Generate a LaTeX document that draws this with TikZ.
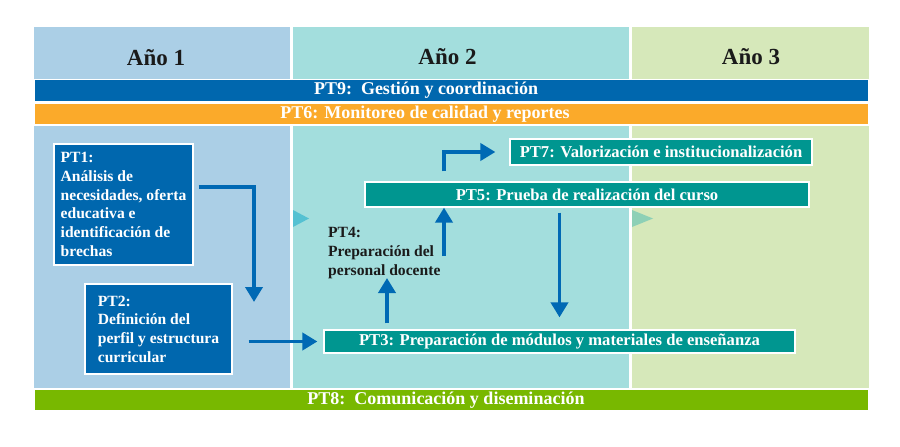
\documentclass[tikz,border=0pt]{standalone}
\usepackage{fontspec}
\setmainfont{Liberation Serif}
\usepackage{xcolor}
\definecolor{yearOne}{HTML}{ABCFE6}
\definecolor{yearTwo}{HTML}{A3DEDD}
\definecolor{yearThree}{HTML}{D6E8BA}
\definecolor{wpBlue}{HTML}{0067AE}
\definecolor{wpTeal}{HTML}{009690}
\definecolor{wpOrange}{HTML}{FBAA2A}
\definecolor{wpGreen}{HTML}{78B800}
\definecolor{arrowBlue}{HTML}{0069B4}
\definecolor{textDark}{HTML}{1A1A1A}
\definecolor{markCyan}{HTML}{55C1D2}
\definecolor{markMint}{HTML}{8DD0B6}
\usepackage{tikz}
\usetikzlibrary{arrows.meta,calc}
\tikzset{%
  yearLabel/.style={%
    font=\fontsize{23}{27}\selectfont\bfseries,
    text=textDark,
    inner sep=0pt,
    anchor=base
  },
  wideBar/.style={%
    rectangle,
    draw=white,
    line width=1.5pt,
    minimum width=835pt,
    minimum height=22pt,
    inner sep=0pt
  },
  barText/.style={%
    font=\fontsize{18}{21}\selectfont\bfseries,
    text=white,
    inner sep=0pt
  },
  wpBox/.style={%
    rectangle,
    draw=white,
    line width=1.2pt,
    fill=wpBlue,
    text=white,
    align=left,
    inner sep=0pt,
    font=\fontsize{15.6}{18.7}\selectfont\bfseries
  },
  wpStrip/.style={%
    rectangle,
    draw=white,
    line width=1.2pt,
    fill=wpTeal,
    text=white,
    inner sep=0pt,
    font=\fontsize{16.6}{20}\selectfont\bfseries
  },
  flowArrow/.style={%
    -{Triangle[length=15pt,width=17pt]},
    line width=3.8pt,
    color=arrowBlue
  }
}

\begin{document}
\begin{tikzpicture}[x=1pt,y=-1pt]
            \useasboundingbox (0,0) rectangle (900,447);
            % year columns
            \fill[yearOne] (34,27) rectangle (290,388);
            \fill[yearTwo] (293,27) rectangle (629,388);
            \fill[yearThree] (632,27) rectangle (869,388);
            \fill[markCyan] (293,210) -- (309,218.5) -- (293,227) -- cycle;
            \fill[markMint] (632,210) -- (653,218.5) -- (632,227) -- cycle;

            \node[yearLabel] (year1) at (156,65) {Año 1};
            \node[yearLabel] (year2) at (447.5,64) {Año 2};
            \node[yearLabel] (year3) at (751,64) {Año 3};

            % cross-cutting work packages
            \node[wideBar, fill=wpBlue] (pt9) at (451.5,90.5) {};
            \node[barText] (pt9txt) at (426,90.5) {PT9:~~Gestión y coordinación};
            \node[wideBar, fill=wpOrange] (pt6) at (451.5,114) {};
            \node[barText] (pt6txt) at (425,114) {PT6: Monitoreo de calidad y reportes};
            \node[wideBar, fill=wpGreen] (pt8) at (451.5,400) {};
            \node[barText] (pt8txt) at (446,400) {PT8:~~Comunicación y diseminación};

            % work packages
            \node[wpBox, minimum width=139pt, minimum height=121pt] (pt1) at (123.5,204.5)
              {PT1:\\Análisis de\\necesidades, oferta\\educativa e\\identificación de\\brechas};
            \node[wpBox, minimum width=147pt, minimum height=90pt] (pt2) at (158.5,329)
              {PT2:\\Definición del\\perfil y estructura\\curricular};
            \node[wpStrip, minimum width=471pt, minimum height=23pt] (pt3) at (559.5,341.5)
              {PT3: Preparación de módulos y materiales de enseñanza};
            \node[font=\fontsize{15.6}{18.6}\selectfont\bfseries, text=textDark, align=left,
              inner sep=0pt, anchor=west] (pt4) at (328,253) {PT4:\\Preparación del\\personal docente};
            \node[wpStrip, minimum width=444pt, minimum height=25pt] (pt5) at (587,194.5)
              {PT5: Prueba de realización del curso};
            \node[wpStrip, minimum width=302pt, minimum height=26pt] (pt7) at (661,152)
              {PT7: Valorización e institucionalización};

            \coordinate (bend) at (254,187);
            \coordinate (drop) at (254,302);
            \coordinate (lift) at (387,278);
            \coordinate (riser) at (444,256);

            \draw[flowArrow, shorten <=5pt] (pt1.east |- bend) -| (drop);
            \draw[flowArrow, shorten <=16pt, shorten >=6pt] (pt2.east |- pt3.west) -- (pt3.west);
            \draw[flowArrow, shorten <=6pt] (lift |- pt3.north) -- (lift);
            \draw[flowArrow] (riser) -- (riser |- pt5.south);
            \draw[flowArrow, shorten <=10pt, shorten >=14pt] (riser |- pt5.north) |- (pt7.west);
            \draw[flowArrow, shorten <=5pt, shorten >=12pt] (pt5.south -| pt3.north) -- (pt3.north);
        \end{tikzpicture}
\end{document}
